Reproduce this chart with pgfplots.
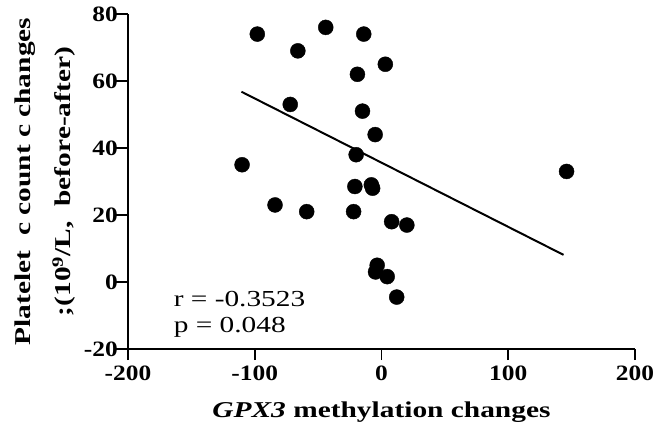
\documentclass[border=0pt]{standalone}
\usepackage{pgfplots}
\pgfplotsset{compat=1.18}
\usepackage{fontspec}
\setmainfont{Liberation Serif}
\newfontfamily\tickfont{Liberation Serif}[FakeStretch=1.16]
\newfontfamily\labfont{Liberation Serif}[FakeStretch=1.3]
\newfontfamily\statfont{Liberation Serif}[FakeStretch=1.28]

% scatter points
\pgfplotstableread{
x y
-98 74
-44 76
-14 74
-66 69
3 65
-19 62
-72 53
-15 51
-5 44
-20 38
-110 35
-21 28.5
-8 29
-7 28
-84 23
-59 21
-22 21
8 18
20 17
-3.4 5
-4.7 3
4.5 1.6
12 -4.5
146 33
}\pts

\begin{document}
\begin{tikzpicture}
\begin{axis}[
    scale only axis,
    width=507bp, height=335bp,
    xmin=-200, xmax=200, ymin=-20, ymax=80,
    axis lines*=left,
    axis line style={line width=2.2pt},
    tick align=outside,
    major tick length=11bp,
    every tick/.append style={black, line width=1.6pt},
    xtick={-200,-100,0,100,200},
    ytick={-20,0,20,40,60,80},
    /pgf/number format/assume math mode=true,
    tick label style={font=\tickfont\fontsize{22}{22}\selectfont\bfseries},
    yticklabel style={inner xsep=1bp, xshift=2bp},
    xticklabel style={yshift=-2bp},
    xlabel={\textbf{\textit{GPX3} methylation changes}},
    xlabel style={at={(rel axis cs:0.5,0)}, anchor=base, yshift=-68bp,
        font=\labfont\fontsize{22.7}{22.7}\selectfont},
    ylabel={\textbf{Platelet\ \ c count c changes}\\\textbf{;(10\textsuperscript{9}/L,\ \ before-after)}},
    ylabel style={at={(rel axis cs:0,0.5)}, anchor=center, yshift=83bp,
        align=center, font=\labfont\fontsize{22.7}{40}\selectfont},
    clip=false,
]
\addplot[only marks, mark=*, mark size=7.5bp, black] table[x=x,y=y]{\pts};
\addplot[line width=2pt, black] coordinates {(-110.5,56.8) (143.6,8.1)};
% tick marks
\pgfplotsinvokeforeach{-200,-100,0,100,200}{
  \draw[line width=1.6pt] (axis cs:#1,-20) -- ([yshift=-10bp]axis cs:#1,-20);
}
\pgfplotsinvokeforeach{-20,0,20,40,60,80}{
  \draw[line width=1.6pt] (axis cs:-200,#1) -- ([xshift=-12bp]axis cs:-200,#1);
}
\node[anchor=base west, inner sep=0pt, font=\statfont\fontsize{23}{23}\selectfont] at (axis cs:-164,-7.2) {r = -0.3523};
\node[anchor=base west, inner sep=0pt, font=\statfont\fontsize{23}{23}\selectfont] at (axis cs:-164,-15.2) {p = 0.048};
\coordinate (bl) at (rel axis cs:0,0);
\coordinate (tr) at (rel axis cs:1,1);
\end{axis}
\pgfresetboundingbox
\path[use as bounding box] ([shift={(-128bp,-81bp)}]bl) rectangle ([shift={(21bp,14bp)}]tr);
\end{tikzpicture}
\end{document}
